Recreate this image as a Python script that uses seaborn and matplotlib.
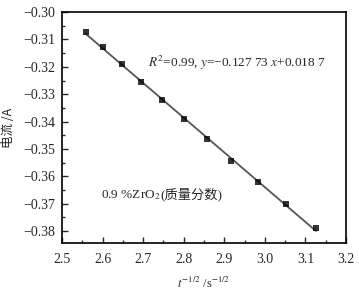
import matplotlib
matplotlib.use("Agg")
import matplotlib.pyplot as plt  # plotting
from matplotlib.ticker import MultipleLocator
import seaborn as sns  # regression line + scatter
import numpy as np
import pandas as pd

# data
t_inv_sqrt = [2.558, 2.601, 2.648, 2.695, 2.747, 2.801, 2.857, 2.917, 2.983, 3.051, 3.126]
current = [-0.3073, -0.3129, -0.3189, -0.3255, -0.3321, -0.3392, -0.3465, -0.3543, -0.3620, -0.3702, -0.3788]
x_ticks = [2.5, 2.6, 2.7, 2.8, 2.9, 3.0, 3.1, 3.2]
y_ticks = [-0.30, -0.31, -0.32, -0.33, -0.34, -0.35, -0.36, -0.37, -0.38]

df = pd.DataFrame({"x": t_inv_sqrt, "y": current})

sns.set_style("ticks")
plt.rcParams["font.family"] = ["Liberation Serif", "Noto Sans CJK SC"]
plt.rcParams["mathtext.fontset"] = "stix"
plt.rcParams["axes.unicode_minus"] = True

fig = plt.figure(figsize=(3.59, 2.94), dpi=100)
ax = fig.add_axes([0.1727, 0.1718, 0.7911, 0.7872])

sns.regplot(data=df, x="x", y="y", ax=ax, ci=None, marker="s",
            scatter_kws={"s": 14, "color": "black", "zorder": 3, "linewidths": 0},
            line_kws={"color": "#555555", "linewidth": 1.3, "zorder": 2})

ax.set_xlim(2.5, 3.2)
ax.set_ylim(-0.3845, -0.30)
ax.set_xticks(x_ticks)
ax.set_yticks(y_ticks)
ax.set_xticklabels([f"{v:.1f}" for v in x_ticks])
ax.set_yticklabels([f"{v:.2f}".replace("-", "\u2212") for v in y_ticks])
ax.xaxis.set_minor_locator(MultipleLocator(0.05))
ax.yaxis.set_minor_locator(MultipleLocator(0.005))
ax.tick_params(which="both", direction="in", top=False, right=False, labelsize=10, width=1.0)
ax.tick_params(which="major", length=4)
ax.tick_params(axis="x", which="major", pad=7)
ax.tick_params(axis="y", which="major", pad=5)
ax.tick_params(which="minor", length=2)
for s in ax.spines.values():
    s.set_visible(True)
    s.set_linewidth(1.2)
    s.set_color("black")

ax.set_xlabel(r"$t^{-1/2}$ /s$^{-1/2}$", fontsize=9, labelpad=7)
ax.set_ylabel("电流 /A", fontsize=9, labelpad=6, color="#222222",
              family=["Noto Sans CJK SC", "DejaVu Sans"])

ax.text(0.302, 0.78, r"$R^2$=0.99, $y$=−0.127 73 $x$+0.018 7", transform=ax.transAxes,
        fontsize=9.5, va="center", ha="left")
t1 = ax.text(0.136, 0.21, r"0.9 %ZrO$_2$", transform=ax.transAxes,
             fontsize=9.5, va="center", ha="left")
ax.annotate("(质量分数)", xy=(1, 0.5), xycoords=t1, va="center", ha="left",
            fontsize=9.5, family=["Liberation Serif", "Noto Sans CJK SC"])

fig.savefig("out.png", dpi=100)
